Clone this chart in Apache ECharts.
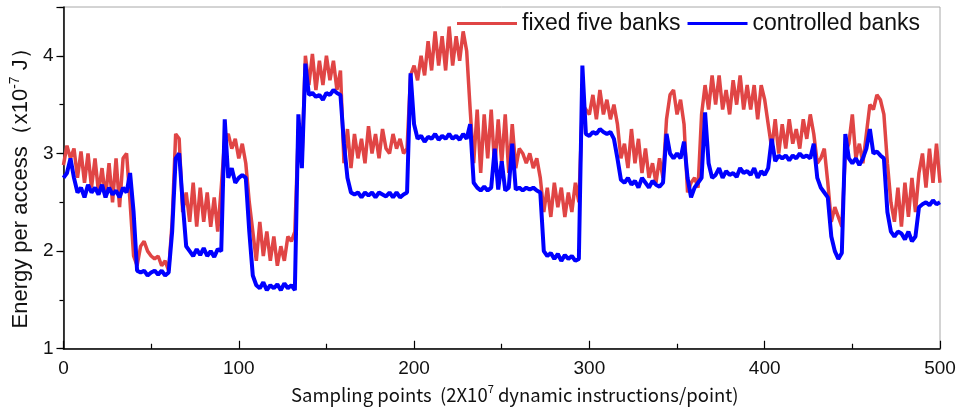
<!DOCTYPE html>
<html>
<head>
<meta charset="utf-8">
<script src="https://cdn.jsdelivr.net/npm/echarts@6/dist/echarts.min.js"></script>
<style>
  html, body { margin: 0; padding: 0; background: #fff; }
  #chart { width: 960px; height: 409px; }
</style>
</head>
<body>
<div id="chart"></div>
<script>
// One value every `sampleStep` sampling points, starting at point 0.
const sampleStep = 2;

// Energy per access (x10^-7 J) with five banks always on
const fixedFive = [
  2.88,3.08,2.95,3.05,2.75,3.02,2.7,3.0,2.65,2.95,
  2.6,2.85,2.55,2.9,2.5,2.95,2.45,2.95,3.0,2.5,
  1.95,1.85,2.05,2.1,2.0,1.95,1.92,1.95,1.85,1.9,
  1.8,2.3,3.2,3.15,2.4,2.6,2.3,2.7,2.25,2.65,
  2.3,2.6,2.25,2.55,2.2,2.65,3.15,3.2,3.05,3.15,
  2.95,3.1,2.9,2.5,2.2,1.9,2.3,1.95,2.2,1.9,
  2.15,1.85,2.05,1.9,2.15,2.1,2.2,3.25,2.9,4.0,
  3.7,4.02,3.65,3.95,3.7,4.0,3.75,3.95,3.65,3.85,
  2.9,3.25,2.85,3.2,2.95,3.15,2.9,3.28,3.0,3.2,
  2.95,3.25,3.05,3.0,3.2,3.05,3.15,3.0,3.05,3.8,
  3.9,3.75,4.0,3.8,4.15,3.85,4.25,3.9,4.2,3.85,
  4.3,3.9,4.2,3.95,4.25,4.05,3.45,2.9,3.45,2.8,
  3.4,2.95,3.45,2.85,3.35,2.9,3.4,2.8,3.3,2.85,
  3.05,3.0,2.9,3.0,2.85,2.95,2.75,2.4,2.65,2.35,
  2.7,2.45,2.65,2.35,2.6,2.4,2.7,2.5,3.5,3.45,
  3.4,3.6,3.35,3.65,3.4,3.55,3.35,3.5,3.3,2.95,
  3.1,2.85,3.25,2.9,3.15,2.8,3.05,2.75,2.9,2.7,
  2.95,2.75,3.35,3.6,3.65,3.4,3.55,3.3,2.6,2.7,
  2.75,2.65,3.4,3.7,3.45,3.8,3.5,3.8,3.45,3.65,
  3.4,3.75,3.5,3.8,3.45,3.7,3.45,3.7,3.35,3.7,
  3.55,3.3,3.05,3.35,3.0,3.3,3.05,3.35,3.1,3.25,
  3.05,3.35,3.15,3.4,3.2,2.9,2.95,3.05,2.7,2.3,
  2.45,2.35,2.25,3.0,3.1,3.4,2.95,3.1,2.9,3.2,
  3.5,3.45,3.6,3.55,3.4,2.9,2.5,2.3,2.65,2.25,
  2.7,2.35,2.75,2.4,2.8,3.0,2.65,3.05,2.7,3.1,
  2.7
];

// Energy per access (x10^-7 J) with bank count under control
const controlled = [
  2.75,2.8,2.95,2.75,2.6,2.65,2.55,2.68,2.6,2.65,
  2.58,2.68,2.55,2.65,2.58,2.62,2.55,2.65,2.6,2.8,
  2.4,1.8,1.78,1.8,1.75,1.78,1.8,1.76,1.8,1.75,
  1.78,2.2,2.95,3.0,2.5,2.05,2.0,1.95,2.02,1.96,
  2.03,1.95,2.0,1.94,2.02,2.0,3.35,2.75,2.85,2.7,
  2.75,2.78,2.75,2.2,1.75,1.65,1.62,1.68,1.6,1.65,
  1.62,1.66,1.6,1.67,1.62,1.65,1.6,3.4,2.85,3.92,
  3.6,3.62,3.58,3.6,3.55,3.62,3.6,3.65,3.62,3.6,
  3.1,2.75,2.6,2.58,2.6,2.55,2.6,2.57,2.6,2.55,
  2.6,2.58,2.56,2.6,2.55,2.6,2.55,2.58,2.6,3.82,
  3.3,3.15,3.18,3.12,3.17,3.15,3.2,3.14,3.18,3.15,
  3.2,3.15,3.18,3.14,3.2,3.15,3.3,2.7,2.65,2.62,
  2.66,2.62,2.65,3.05,2.63,2.92,2.62,2.65,3.1,2.63,
  2.65,2.62,2.65,2.63,2.65,2.62,2.6,2.0,1.95,1.98,
  1.92,1.97,1.9,1.96,1.92,1.95,1.9,1.92,3.9,3.2,
  3.18,3.22,3.2,3.25,3.22,3.2,3.22,3.15,2.95,2.73,
  2.7,2.75,2.68,2.72,2.65,2.75,2.7,2.65,2.72,2.68,
  2.66,2.7,3.2,3.0,2.95,3.0,2.95,3.12,2.75,2.55,
  2.65,2.7,2.75,3.42,2.9,2.75,2.78,2.85,2.75,2.82,
  2.78,2.8,2.76,2.85,2.8,2.82,2.78,2.85,2.75,2.82,
  2.78,2.85,3.15,2.92,2.98,2.95,2.98,2.93,2.98,2.95,
  3.0,2.96,2.98,2.95,3.1,2.75,2.65,2.6,2.55,2.15,
  2.0,1.92,1.98,3.2,2.95,2.9,2.95,2.88,2.95,3.05,
  3.25,3.0,3.02,2.98,2.95,2.4,2.2,2.15,2.2,2.18,
  2.12,2.2,2.1,2.15,2.45,2.48,2.5,2.47,2.52,2.48,
  2.5
];

const seriesNames = ['fixed five banks', 'controlled banks'];
const seriesColors = ['#e04545', '#0000ff'];

const toPairs = arr => arr.map((v, k) => [k * sampleStep, v]);

const chart = echarts.init(document.getElementById('chart'), null, { renderer: 'canvas' });

const axisFont = 'Arial, "Liberation Sans", sans-serif';

chart.setOption({
  animation: false,
  backgroundColor: '#ffffff',
  grid: {
    left: 63, right: 20, top: 7, bottom: 59,
    show: true, borderColor: '#a8a8a8', borderWidth: 1, backgroundColor: 'transparent'
  },
  legend: {
    left: 452, top: 7,
    itemWidth: 60, itemHeight: 3, itemGap: 7,
    icon: 'rect',
    textStyle: { fontFamily: axisFont, fontSize: 23, color: '#111' },
    data: seriesNames
  },
  xAxis: {
    type: 'value', min: 0, max: 500, interval: 100,
    name: 'Sampling points  (2X10{sup|7} dynamic instructions/point)',
    nameLocation: 'middle', nameGap: 35,
    nameTextStyle: {
      fontFamily: '"Noto Sans CJK SC", sans-serif', fontSize: 18.5, color: '#111',
      padding: [0, 0, 0, 26],
      rich: { sup: { fontFamily: '"Noto Sans CJK SC", sans-serif', fontSize: 11, color: '#111', verticalAlign: 'top', lineHeight: 22 } }
    },
    axisLine: { lineStyle: { color: '#000', width: 1.5 } },
    axisTick: { inside: true, length: 8, lineStyle: { color: '#000', width: 1.2 } },
    minorTick: { show: true, splitNumber: 2, length: 5, lineStyle: { color: '#000', width: 1.2 } },
    axisLabel: { fontFamily: axisFont, fontSize: 19, color: '#111', margin: 11 },
    splitLine: { show: false }
  },
  yAxis: [{
    type: 'value', min: 1, max: 4.5, interval: 1,
    name: 'Energy per access（x10{sup|-7} J）',
    nameLocation: 'middle', nameGap: 25, nameRotate: 90,
    nameTextStyle: {
      fontFamily: axisFont, fontSize: 22, color: '#111',
      padding: [0, 10, 0, 0],
      rich: { sup: { fontFamily: axisFont, fontSize: 14, color: '#111', verticalAlign: 'top', lineHeight: 26 } }
    },
    axisLine: { show: true, lineStyle: { color: '#000', width: 1.5 } },
    axisTick: { show: true, inside: false, length: 7, lineStyle: { color: '#000', width: 1.2 } },
    axisLabel: {
      fontFamily: axisFont, fontSize: 19, color: '#111', margin: 10,
      formatter: v => (Number.isInteger(v) ? String(v) : '')
    },
    splitLine: { show: false }
  }, {
    // half-unit ticks along the left edge
    type: 'value', min: 1, max: 4.5, interval: 0.5, position: 'left',
    axisLine: { show: false },
    axisTick: { show: true, inside: false, length: 4, lineStyle: { color: '#000', width: 1.2 } },
    axisLabel: { show: false },
    splitLine: { show: false }
  }],
  series: [
    {
      name: seriesNames[0], type: 'line', yAxisIndex: 0,
      data: toPairs(fixedFive),
      showSymbol: false, symbol: 'none',
      lineStyle: { color: seriesColors[0], width: 3.5 },
      itemStyle: { color: seriesColors[0] }
    },
    {
      name: seriesNames[1], type: 'line', yAxisIndex: 0,
      data: toPairs(controlled),
      showSymbol: false, symbol: 'none',
      lineStyle: { color: seriesColors[1], width: 4 },
      itemStyle: { color: seriesColors[1] }
    }
  ]
});
</script>
</body>
</html>
